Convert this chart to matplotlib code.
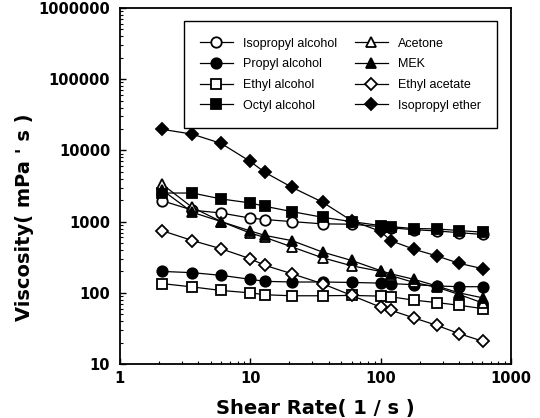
import matplotlib
matplotlib.use("Agg")
import matplotlib.pyplot as plt
from matplotlib import font_manager

shear_rate = [2.1, 3.6, 6.0, 10, 13, 21, 36, 60, 100, 120, 180, 270, 400, 610]

isopropyl_alcohol = [1970, 1450, 1320, 1120, 1070, 1000, 930, 920, 850, 820, 770, 740, 700, 660]
propyl_alcohol = [200, 192, 176, 155, 145, 142, 142, 140, 137, 135, 130, 125, 122, 122]
ethyl_alcohol = [135, 121, 108, 100, 94, 91, 91, 92, 90, 88, 79, 73, 67, 60]
octyl_alcohol = [2520, 2520, 2080, 1830, 1640, 1380, 1150, 1000, 880, 850, 800, 790, 750, 710]
acetone = [3370, 1580, 1000, 690, 600, 440, 310, 240, 200, 175, 140, 120, 95, 72]
mek = [2800, 1350, 1000, 740, 640, 540, 373, 285, 205, 185, 155, 125, 100, 85]
ethyl_acetate = [748, 542, 415, 301, 243, 185, 134, 92, 63, 57, 44.5, 35, 26.8, 20.9]
isopropyl_ether = [19800, 16900, 12500, 7000, 4900, 3020, 1870, 1030, 730, 540, 410, 330, 260, 218]

x_ticks = [1, 10, 100, 1000]
x_tick_labels = ["1", "10", "100", "1000"]
y_ticks = [10, 100, 1000, 10000, 100000, 1000000]
y_tick_labels = ["10", "100", "1000", "10000", "100000", "1000000"]

series = [
    ("Isopropyl alcohol", isopropyl_alcohol, "o", "white"),
    ("Propyl alcohol", propyl_alcohol, "o", "black"),
    ("Ethyl alcohol", ethyl_alcohol, "s", "white"),
    ("Octyl alcohol", octyl_alcohol, "s", "black"),
    ("Acetone", acetone, "^", "white"),
    ("MEK", mek, "^", "black"),
    ("Ethyl acetate", ethyl_acetate, "D", "white"),
    ("Isopropyl ether", isopropyl_ether, "D", "black"),
]

installed = {f.name for f in font_manager.fontManager.ttflist}
narrow = "Liberation Sans Narrow" if "Liberation Sans Narrow" in installed else "Liberation Sans"

fig = plt.figure(figsize=(5.4, 4.18), dpi=100)
ax = fig.add_axes([0.222, 0.129, 0.724, 0.852])

sizes = {"o": 7.5, "s": 7.5, "^": 7.5, "D": 6.5}
for name, vals, m, fc in series:
    ax.plot(shear_rate, vals, marker=m, markerfacecolor=fc, markeredgecolor="black",
            markeredgewidth=1.3, markersize=sizes[m], color="black", linewidth=0.9,
            label=name)

ax.set_xscale("log")
ax.set_yscale("log")
ax.set_xlim(1, 1000)
ax.set_ylim(10, 1000000)

ax.set_xticks(x_ticks)
ax.set_xticklabels(x_tick_labels)
ax.set_yticks(y_ticks)
ax.set_yticklabels(y_tick_labels)

for lab in ax.get_xticklabels() + ax.get_yticklabels():
    lab.set_fontweight("bold")
    lab.set_fontsize(10.5)
    lab.set_family("DejaVu Sans")

ax.tick_params(which="both", direction="in", top=False, right=False)
ax.tick_params(which="major", length=4, width=1)
ax.tick_params(which="minor", length=2, width=0.8)
ax.tick_params(axis="y", which="major", pad=7)
ax.tick_params(axis="x", which="major", pad=5)
for sp in ax.spines.values():
    sp.set_linewidth(1.3)

ax.set_xlabel("Shear Rate( 1 / s )", fontsize=14, fontweight="bold", family="DejaVu Sans",
              labelpad=9)
ax.set_ylabel("Viscosity( mPa ' s )", fontsize=14, fontweight="bold", family="DejaVu Sans")
ax.yaxis.set_label_coords(-0.22, 0.413)

leg = ax.legend(ncol=2, loc="upper left", bbox_to_anchor=(0.148, 0.674, 0.832, 0.306),
                mode="expand", fancybox=False, edgecolor="black", framealpha=1,
                prop={"family": narrow, "size": 9}, handlelength=2.6,
                labelspacing=0.7, borderpad=1.3, columnspacing=0.5, handletextpad=0.8)
leg.get_frame().set_linewidth(1.0)

fig.savefig("out.png", dpi=100)
